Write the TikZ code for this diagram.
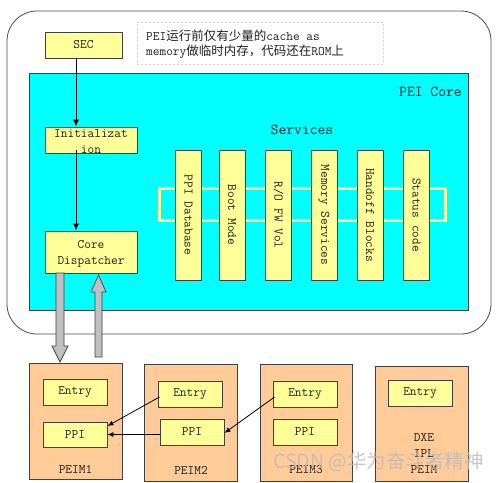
\documentclass[tikz,border=0pt]{standalone}
\usepackage{fontspec}
\newfontfamily\cjk{Noto Sans CJK SC}
\usetikzlibrary{arrows.meta}
\definecolor{cyanbg}{HTML}{00FFFF}
\definecolor{ybox}{HTML}{FFFF99}
\definecolor{obox}{HTML}{FFCC99}
\definecolor{edge}{HTML}{404040}
\definecolor{garrow}{HTML}{C0C0C0}
\definecolor{txt}{HTML}{202020}
\begin{document}
\begin{tikzpicture}[x=1pt,y=-1pt,
  font=\ttfamily\fontsize{13}{16}\selectfont,
  ybx/.style={draw=edge, fill=ybox, line width=0.9pt, inner sep=0pt, text=txt,
    minimum width=64, minimum height=26},
  obx/.style={draw=edge, fill=obox, line width=0.9pt, inner sep=0pt},
  bar/.style={draw=edge, fill=ybox, line width=0.9pt, inner sep=0pt, text=txt,
    minimum width=130, minimum height=26, rotate=-90},
  lbl/.style={inner sep=0pt, text=txt, align=center},
  arr/.style={-{Latex[length=7pt,width=6pt]}, line width=1pt, black},
  tarr/.style={-{Latex[length=6pt,width=5pt]}, line width=0.8pt, black},
  garr/.style={draw=edge, fill=garrow, line width=0.7pt}
]
\useasboundingbox (0,0) rectangle (498,482);
\fill[white] (0,0) rectangle (498,482);

% outer rounded frame
\draw[draw=gray!60!black, line width=0.8pt, rounded corners=30pt] (7,11) rectangle (491,334);

% note
\node[draw=gray!35, dashed, dash pattern=on 2pt off 2pt, line width=0.6pt,
      minimum width=246, minimum height=42, inner sep=0pt] (notebox) at (260,43) {};
\node[lbl, anchor=west, align=left, font=\ttfamily\fontsize{13}{15}\selectfont] (note) at (146,44)
  {PEI{\cjk\fontsize{12.5}{15}\selectfont 运行前仅有少量的}cache as\\memory{\cjk\fontsize{12.5}{15}\selectfont 做临时内存，代码还在}ROM{\cjk\fontsize{12.5}{15}\selectfont 上}};

% SEC
\node[ybx, minimum width=77, minimum height=26] (sec) at (83.5,45) {SEC};

% PEI core area
\node[draw=edge, fill=cyanbg, line width=0.9pt, minimum width=439, minimum height=237, inner sep=0pt] (core) at (248.5,191.5) {};
\node[lbl, anchor=east, font=\ttfamily\fontsize{15.2}{16}\selectfont] (coretitle) at (462,92) {PEI Core};
\node[lbl, font=\ttfamily\fontsize{15.2}{16}\selectfont] (services) at (302,130) {Services};

% yellow outline frame behind the bars
\draw[ybox, line width=3pt] (159,188) rectangle (445,220);

% service bars
\node[bar] (s1) at (188.5,215) {PPI Database};
\node[bar] (s2) at (232,215) {Boot Mode};
\node[bar] (s3) at (278.5,215) {R/O FW Vol};
\node[bar] (s4) at (324,215) {Memory Services};
\node[bar] (s5) at (370,215) {Handoff Blocks};
\node[bar] (s6) at (416.5,215) {Status code};

% init and dispatcher
\node[ybx, minimum width=92, minimum height=26] (init) at (91,140) {};
\node[lbl] (initlbl) at (91,141.5) {Initializat\\ion};
\node[ybx, minimum width=92, minimum height=42] (disp) at (91,252) {};
\node[lbl] (displbl) at (91,254) {Core\\Dispatcher};

\draw[arr] ([xshift=-7.5pt]sec.south) -- ([xshift=-15pt]init.north);
\draw[arr] ([xshift=-15pt,yshift=3pt]init.south) -- ([xshift=-15pt]disp.north);

% PEIM boxes
\node[obx, minimum width=93, minimum height=116] (peim1) at (75.5,421) {};
\node[obx, minimum width=93, minimum height=117] (peim2) at (190.5,422.5) {};
\node[obx, minimum width=92, minimum height=117] (peim3) at (306,422.5) {};
\node[obx, minimum width=93, minimum height=115] (peim4) at (421.5,423.5) {};

\node[ybx] (e1) at (75,392) {Entry};
\node[ybx, minimum height=25] (p1) at (75,434.5) {PPI};
\node[ybx] (e2) at (190,394) {Entry};
\node[ybx] (p2) at (192,432) {PPI};
\node[ybx] (e3) at (305,394) {Entry};
\node[ybx] (p3) at (305,432) {PPI};
\node[ybx] (e4) at (420,393.5) {Entry};

\node[lbl] (l1) at (75.5,469) {PEIM1};
\node[lbl] (l2) at (191,470) {PEIM2};
\node[lbl] (l3) at (306,470) {PEIM3};
\node[lbl] (l4) at (424,453.5) {DXE\\IPL\\PEIM};

\draw[tarr] ([xshift=2pt,yshift=-3pt]e2.west) -- ([yshift=8.5pt]p1.east);
\draw[tarr] (p1.east -| p2.west) -- (p1.east);
\draw[tarr] ([xshift=2pt,yshift=-3pt]e3.west) -- ([yshift=-1pt]p2.east);

% gray block arrows between core dispatcher and PEIM1
\draw[garr] (56,273) -- (56,346) -- (52,346) -- (60,362) -- (68,346) -- (64,346) -- (64,273) -- cycle;
\draw[garr] (95,357) -- (95,292) -- (91,292) -- (98.5,275) -- (106,292) -- (102,292) -- (102,357) -- cycle;

% watermark
\node[inner sep=0pt, anchor=west, text=gray!55, opacity=0.8, font=\cjk\fontsize{19.5}{22}\selectfont] (wm) at (273,462) {CSDN @华为奋斗者精神};
\end{tikzpicture}
\end{document}
